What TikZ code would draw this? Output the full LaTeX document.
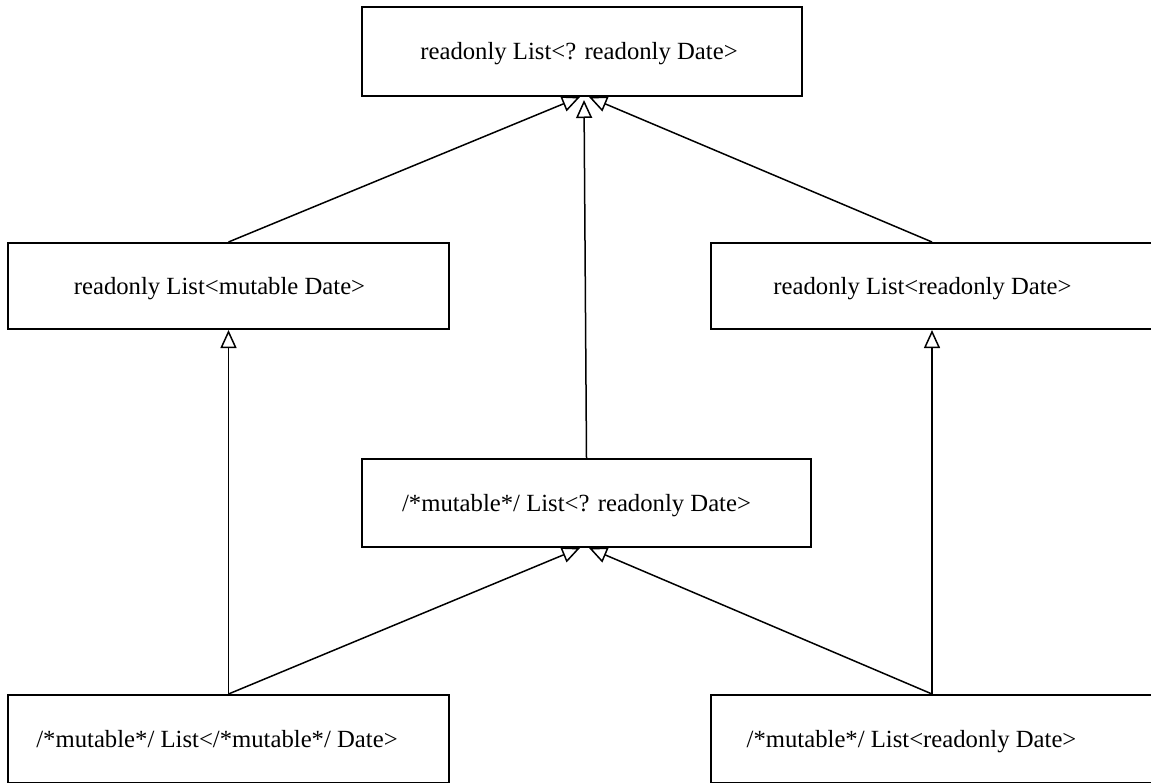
\documentclass[tikz,border=0pt]{standalone}
\usepackage{fontspec}
\setmainfont{Liberation Serif}
\usetikzlibrary{arrows.meta,calc}
\begin{document}
\begin{tikzpicture}[x=0.5pt, y=-0.5pt,
    typebox/.style={draw, rectangle, line width=1pt, inner sep=0pt, minimum height=44pt,
        text height=8.6pt, text depth=0.6pt, font=\fontsize{12.35}{14}\selectfont},
    nudge/.style={execute at end node={\hspace*{#1}}},
    extends/.style={-{Triangle[open, length=9pt, width=8pt]}, line width=0.75pt}]
    \useasboundingbox (0,0) rectangle (1151,782);

    % type boxes
    \node[typebox, nudge=3pt, minimum width=220pt, minimum height=44.5pt] (top) at (582,51.5) {readonly List<? readonly Date>};
    \node[typebox, nudge=9pt, minimum width=220.5pt, minimum height=43pt] (midL) at (228.5,286) {readonly List<mutable Date>};
    \node[typebox, nudge=9.5pt, minimum width=221pt, minimum height=43pt] (midR) at (932,286) {readonly List<readonly Date>};
    \node[typebox, nudge=10pt, minimum width=224.5pt] (center) at (586.5,503) {/*mutable*/ List<? readonly Date>};
    \node[typebox, nudge=11.5pt, minimum width=220.5pt] (botL) at (228.5,739) {/*mutable*/ List</*mutable*/ Date>};
    \node[typebox, nudge=20.5pt, minimum width=221pt] (botR) at (932,739) {/*mutable*/ List<readonly Date>};

    % arrow ends on the bottom edges
    \coordinate (topInL) at ($(top.south)+(-2,0)$);
    \coordinate (topInM) at ($(top.south)+(2,0)$);
    \coordinate (topInR) at ($(top.south)+(7,0)$);
    \coordinate (cenInL) at ($(center.south)+(-6.5,0)$);
    \coordinate (cenInR) at ($(center.south)+(2.5,0)$);

    \foreach \from/\to in {midL.north/topInL, midR.north/topInR, botL.north/midL.south,
        botL.north/cenInL, botR.north/cenInR, botR.north/midR.south} {
        \draw[extends] (\from) -- (\to);
    }
    \draw[extends, shorten >=1.5pt] (center.north) -- (topInM);
\end{tikzpicture}
\end{document}
